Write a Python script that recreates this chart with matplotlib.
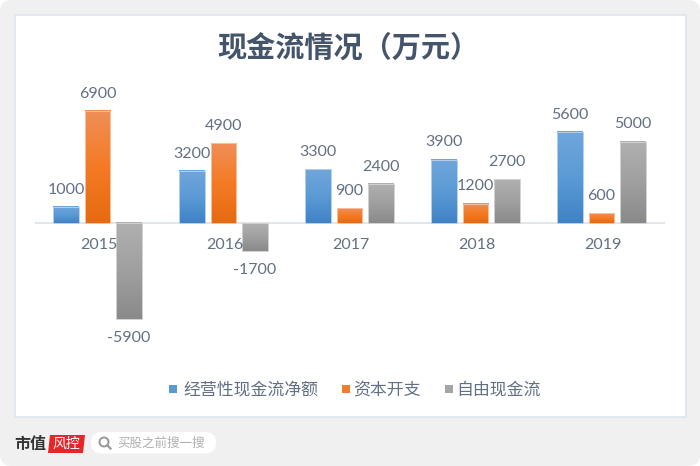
import numpy as np
import matplotlib
matplotlib.use("Agg")
import matplotlib.pyplot as plt
from matplotlib.colors import LinearSegmentedColormap
from matplotlib.patches import FancyBboxPatch, Rectangle, Circle, Polygon

years = ["2015", "2016", "2017", "2018", "2019"]
series_names = ["经营性现金流净额", "资本开支", "自由现金流"]
operating = [1000, 3200, 3300, 3900, 5600]
capex = [6900, 4900, 900, 1200, 600]
free_cash = [-5900, -1700, 2400, 2700, 5000]
title = "现金流情况（万元）"

plt.rcParams["font.family"] = ["Noto Sans CJK SC", "DejaVu Sans"]

TEXT = "#627084"
fig = plt.figure(figsize=(7, 4.66), dpi=100, facecolor="white")

# page furniture in pixel coordinates
bg = fig.add_axes([0, 0, 1, 1], zorder=0)
bg.set_xlim(0, 700)
bg.set_ylim(466, 0)
bg.axis("off")
bg.add_patch(FancyBboxPatch((0, 0), 700, 466, boxstyle="round,pad=0,rounding_size=12",
                            fc="#f0f0f0", ec="none"))
bg.add_patch(Rectangle((14.5, 14.5), 671, 402, fc="white", ec="#dde5ef", lw=1.2))
bg.text(348, 48, title, ha="center", va="center", fontsize=21, fontweight="bold", color="#44546a")

# footer logo and search box
bg.text(14, 444.5, "市值", ha="left", va="center", fontsize=11.5, fontweight="bold", color="#333333")
bg.add_patch(Polygon([(50, 435), (85, 435), (83, 453), (48, 453)], fc="#e8262a", ec="none"))
bg.text(66.5, 444, "风控", ha="center", va="center", fontsize=10, color="white", style="italic")
bg.add_patch(FancyBboxPatch((91, 432), 125, 21.5, boxstyle="round,pad=0,rounding_size=10.5",
                            fc="white", ec="none"))
bg.add_patch(Circle((104, 442), 4.5, fc="none", ec="#999999", lw=1.4))
bg.plot([107.2, 110.5], [445.2, 448.5], color="#999999", lw=1.6)
bg.text(117, 443, "买股之前搜一搜", ha="left", va="center", fontsize=9, color="#b0b0b0")

# chart axes: zero line sits at y=223 px
ax = fig.add_axes([34.5 / 700, 1 - 329 / 466, 630 / 700, 228 / 466], zorder=1)
ax.patch.set_alpha(0)
ax.axis("off")
ax.axhline(0, color="#dce1e8", lw=1.2, zorder=1)

x = np.arange(len(years))
width = 0.2
ramps = [("#70a5dc", "#5b9bd5", "#3f82c6"), ("#f08e58", "#f47b24", "#e66a12"), ("#b0b0b0", "#a0a0a0", "#8a8a8a")]
edges = ["#b4d0ec", "#f8c09c", "#d2d2d2"]
solid = ["#5b9bd5", "#ed7d31", "#a5a5a5"]

for i, values in enumerate([operating, capex, free_cash]):
    pos = x + (i - 1) * 0.25
    bars = ax.bar(pos, values, width, color="none", edgecolor=edges[i], lw=0.7, zorder=3)
    cmap = LinearSegmentedColormap.from_list("ramp", ramps[i])
    for bar, v in zip(bars, values):
        # vertical gradient inside the bar
        x0 = bar.get_x()
        grad = np.linspace(0, 1, 64).reshape(-1, 1)
        ax.imshow(grad, cmap=cmap, aspect="auto", zorder=2, interpolation="nearest",
                  extent=(x0, x0 + width, min(v, 0), max(v, 0)))
        ax.text(x0 + width / 2, v + (630 if v > 0 else -730), str(v), ha="center",
                va="bottom" if v > 0 else "top", fontsize=11.5, color=TEXT,
                family=["Lato", "DejaVu Sans"])
ax.set_xlim(-0.5, 4.5)
ax.set_ylim(-6500, 7500)

# year labels sit just under the zero line
for xi, y in zip(x, years):
    ax.text(xi + 0.01, -1350, y, ha="center", va="center", fontsize=11.5, color=TEXT,
            family=["Lato", "DejaVu Sans"])

# legend drawn by hand so the spacing stays tight
legend_x = [169, 342, 445]
text_x = [183, 353, 456]
for lx, tx, name, col in zip(legend_x, text_x, series_names, solid):
    bg.add_patch(Rectangle((lx, 385), 8, 8, fc=col, ec="none"))
    bg.text(tx, 389, name, ha="left", va="center", fontsize=12.2, color=TEXT)

fig.savefig("out.png", dpi=100)
